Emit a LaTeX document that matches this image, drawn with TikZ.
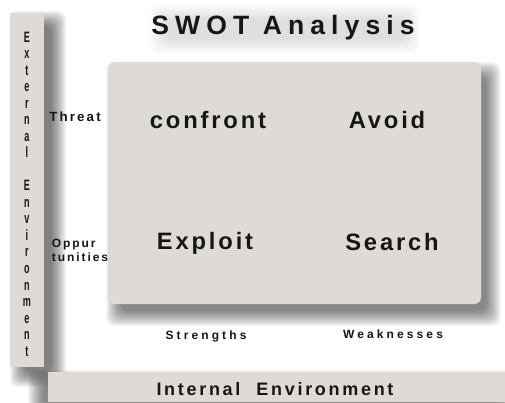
\documentclass[tikz,border=0pt]{standalone}
\usepackage{fontspec}
\setmainfont{Liberation Sans}
\newfontfamily\titlefont[LetterSpace=23]{Liberation Sans}
\newfontfamily\cellfont[LetterSpace=12]{Liberation Sans}
\newfontfamily\tagfont[LetterSpace=16]{Liberation Sans}
\newfontfamily\axisfont[LetterSpace=26]{Liberation Sans}
\newfontfamily\stackfont[FakeStretch=0.6]{Liberation Sans}
\newfontfamily\basefont[LetterSpace=15]{Liberation Sans}

\definecolor{panelgrey}{RGB}{222,218,214}
\definecolor{inkgrey}{RGB}{22,22,22}

\tikzset{every picture/.style={line width=0.75pt}}
\tikzset{
	celltext/.style={text=inkgrey,font=\cellfont\bfseries\fontsize{17.8}{20}\selectfont},
	tagtext/.style={text=inkgrey,font=\tagfont\bfseries\fontsize{10}{11}\selectfont},
	axistext/.style={text=inkgrey,font=\axisfont\bfseries\fontsize{9}{10}\selectfont}
}

% soft shadow: #1,#2 top left, #3,#4 bottom right, #5 strength
\newcommand{\softshade}[5]{%
	\foreach \i in {0,...,15}
		\fill [black,fill opacity=#5,rounded corners=6pt] (#1+5-\i,#2+5-\i) rectangle (#3-5+\i,#4-5+\i);
}

\begin{document}
\begin{tikzpicture}[x=0.75pt,y=0.75pt,yscale=-1,xscale=1]
	\useasboundingbox (0,0) rectangle (505,402);
	\fill [white] (0,0) rectangle (505,402);

	%Shadows
	\softshade{160}{14}{410}{44}{0.008}
	\softshade{116}{72}{491}{316}{0.035}
	\softshade{20}{21}{56}{377}{0.04}
	\softshade{38}{380}{505}{410}{0.035}

	%Shape: Rectangle [id:external bar]
	\draw [draw=none,fill=panelgrey] (10,13) rectangle (44,367) ;
	%Shape: Rounded Rect [id:matrix panel]
	\draw [draw=none,fill=panelgrey,rounded corners=5pt] (108,62) rectangle (481,304) ;
	%Shape: Rectangle [id:internal bar]
	\draw [draw=none,fill=panelgrey] (48,372) rectangle (505,402) ;

	% Text Node
	\draw (283,28) node [text=inkgrey,font=\titlefont\bfseries\fontsize{19.9}{24}\selectfont] (title) {SWOT Analysis};
	% Text Node
	\draw (208,120) node [celltext] (confront) {confront};
	% Text Node
	\draw (387,120) node [celltext] (avoid) {Avoid};
	% Text Node
	\draw (205,243) node [celltext] (exploit) {Exploit};
	% Text Node
	\draw (392,242) node [celltext] (search) {Search};
	% Text Node
	\draw (75,117) node [tagtext] (threat) {Threat};
	% Text Node
	\draw (47,250) node [tagtext,anchor=west,align=left,font=\tagfont\bfseries\fontsize{9}{10.5}\selectfont] (oppor) {Oppur\\tunities};
	% Text Node
	\draw (206,336) node [axistext] (strengths) {Strengths};
	% Text Node
	\draw (393,334) node [axistext] (weak) {Weaknesses};
	% Text Node
	\draw (275,389) node [text=inkgrey,font=\basefont\bfseries\fontsize{13.5}{15}\selectfont] (internal) {Internal\hspace{12pt}Environment};
	% Text Node
	\draw (27,194) node [text=inkgrey,align=center,font=\stackfont\bfseries\fontsize{11.3}{12.4}\selectfont] (external) {E\\x\\t\\e\\r\\n\\a\\l\\[12.4pt]E\\n\\v\\i\\r\\o\\n\\m\\e\\n\\t};

\end{tikzpicture}
\end{document}
